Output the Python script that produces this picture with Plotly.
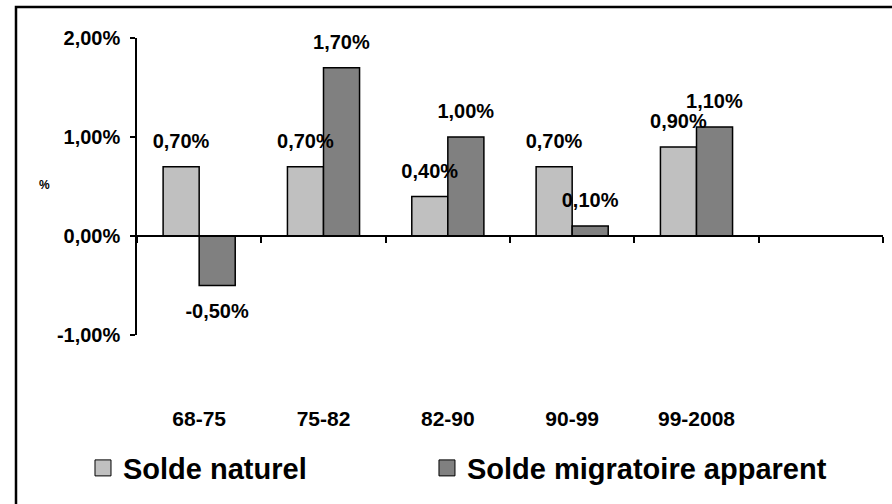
import plotly.graph_objects as go

categories = ["68-75", "75-82", "82-90", "90-99", "99-2008"]
solde_naturel = [0.70, 0.70, 0.40, 0.70, 0.90]
solde_migratoire = [-0.50, 1.70, 1.00, 0.10, 1.10]
series_names = ["Solde naturel", "Solde migratoire apparent"]
colors = ["#C0C0C0", "#808080"]
y_ticks = [-1, 0, 1, 2]
n_slots = 6  # last slot is empty in the original chart


def fr_pct(v):
    return f"{v:.2f}%".replace(".", ",")


FONT = "Liberation Sans, Arial, sans-serif"
pos = list(range(len(categories)))
LABEL_PAD = 0.12  # extra label distance from bar end (axis units)

fig = go.Figure()
groups = ["nat", "mig"]
all_vals = [solde_naturel, solde_migratoire]
# bars
for name, vals, col, g in zip(series_names, all_vals, colors, groups):
    fig.add_trace(go.Bar(
        x=pos, y=vals, name=name, showlegend=False, offsetgroup=g,
        marker=dict(color=col, line=dict(color="black", width=1.5)),
        hoverinfo="skip",
    ))
# data labels drawn above all bars (transparent carrier bars)
for vals, g in zip(all_vals, groups):
    fig.add_trace(go.Bar(
        x=pos, y=vals, offsetgroup=g, showlegend=False,
        base=[LABEL_PAD if v >= 0 else -LABEL_PAD for v in vals],
        marker=dict(color="rgba(0,0,0,0)", line=dict(width=0)),
        text=[fr_pct(v) for v in vals], texttemplate="%{text}",
        textposition="outside", constraintext="none", cliponaxis=False,
        textfont=dict(family=FONT, size=20, color="black", weight="bold"),
        hoverinfo="skip",
    ))
# legend entries (larger square swatches)
for name, col, lg in zip(series_names, colors, ["legend", "legend2"]):
    fig.add_trace(go.Scatter(
        x=[None], y=[None], xaxis="x2", mode="markers", name=name, legend=lg,
        marker=dict(symbol="square", size=20, color=col, line=dict(color="black", width=1)),
        hoverinfo="skip",
    ))

boundaries = [i - 0.5 for i in range(n_slots + 1)]
legend_style = dict(
    orientation="h", xanchor="left", y=-0.448, yanchor="middle",
    font=dict(family=FONT, size=29, weight="bold"), itemclick=False,
    bgcolor="rgba(0,0,0,0)",
)
fig.update_layout(
    width=892, height=504,
    margin=dict(l=137, r=9, t=38, b=169),
    paper_bgcolor="white", plot_bgcolor="white",
    barmode="group", bargap=0.42, bargroupgap=0,
    font=dict(family=FONT, color="black"),
    xaxis=dict(
        range=[-0.5, n_slots - 0.5], anchor="free", position=1/3,
        tickvals=boundaries, ticktext=[""] * len(boundaries),
        ticks="outside", ticklen=6, tickwidth=1.5, tickcolor="black",
        showline=True, linecolor="black", linewidth=1.5,
        showgrid=False, zeroline=False,
    ),
    xaxis2=dict(
        overlaying="x", matches="x", anchor="y", side="bottom",
        tickvals=pos, ticktext=categories, ticks="",
        ticklabelstandoff=69,
        tickfont=dict(family=FONT, size=21, weight="bold"),
        showline=False, showgrid=False, zeroline=False,
    ),
    yaxis=dict(
        range=[-1, 2], tickvals=y_ticks, ticktext=[fr_pct(t) for t in y_ticks],
        ticks="outside", ticklen=5, tickwidth=1.5, tickcolor="black",
        showline=True, linecolor="black", linewidth=1.5,
        showgrid=False, zeroline=False, ticklabelstandoff=6,
        tickfont=dict(family=FONT, size=20, weight="bold"),
    ),
    legend=dict(x=-0.0724, **legend_style),
    legend2=dict(x=0.3887, **legend_style),
    annotations=[dict(
        text="%", xref="paper", yref="paper", x=-0.134, y=0.505,
        showarrow=False, font=dict(family=FONT, size=12, weight="bold"),
    )],
    shapes=[dict(
        type="rect", xref="paper", yref="paper",
        x0=-0.1622, x1=1.05, y0=-0.64, y1=1.1044,
        line=dict(color="black", width=2.5), fillcolor="rgba(0,0,0,0)",
    )],
)

fig.write_html("out.html")
